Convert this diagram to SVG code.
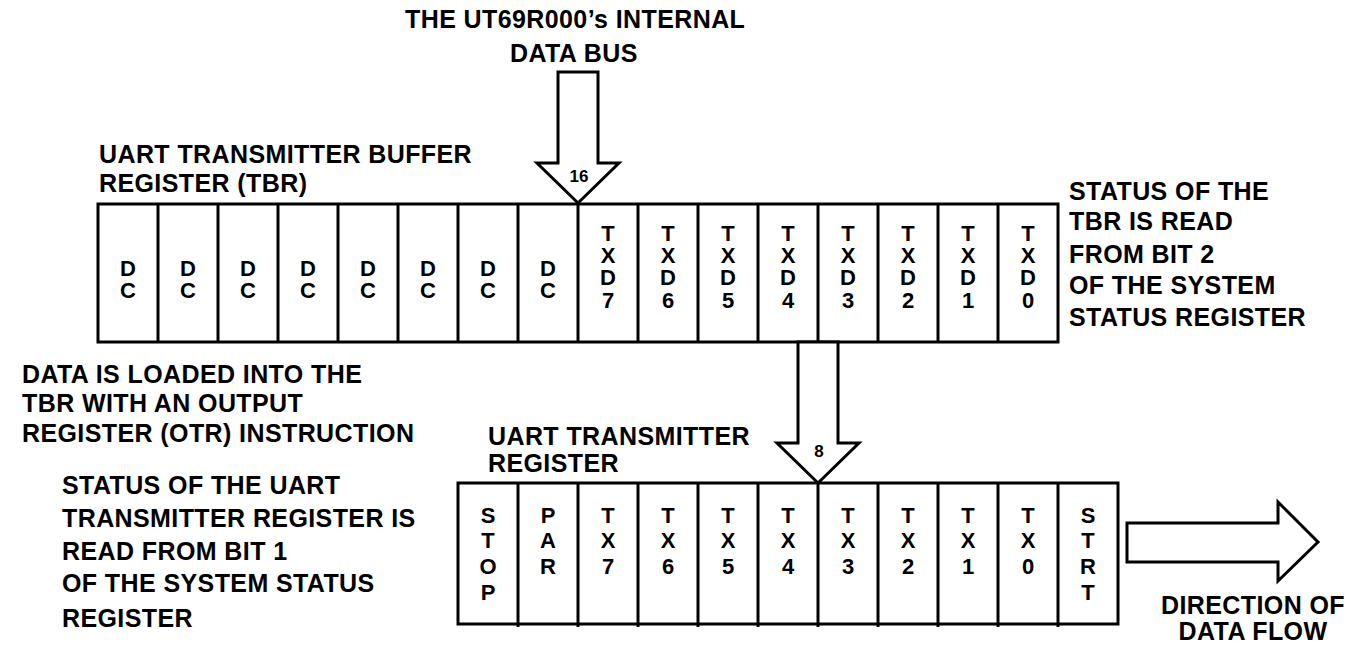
<svg xmlns="http://www.w3.org/2000/svg" width="1354" height="652" viewBox="0 0 1354 652">
<style>
.lbl{font-family:"Liberation Sans",Arial,sans-serif;font-weight:bold;font-size:25px;letter-spacing:0.4px;fill:#000}
.cell{font-family:"Liberation Sans",Arial,sans-serif;font-weight:bold;font-size:22px;fill:#000;text-anchor:middle}
.num{font-family:"Liberation Sans",Arial,sans-serif;font-weight:bold;font-size:17px;fill:#000;text-anchor:middle}
.box{fill:#fff;stroke:#000;stroke-width:3}
.div{stroke:#000;stroke-width:3}
.arr{fill:#fff;stroke:#000;stroke-width:3;stroke-linejoin:miter}
</style>
<rect width="1354" height="652" fill="#fff"/>

<g id="title">
<text class="lbl" x="405" y="28">THE UT69R000’s INTERNAL</text>
<text class="lbl" x="510" y="62">DATA BUS</text>
</g>

<g id="tbr-label">
<text class="lbl" x="99" y="163">UART TRANSMITTER BUFFER</text>
<text class="lbl" x="99" y="192">REGISTER (TBR)</text>
</g>

<g id="tbr-status-note">
<text class="lbl" x="1069" y="200">STATUS OF THE</text>
<text class="lbl" x="1069" y="230">TBR IS READ</text>
<text class="lbl" x="1069" y="263">FROM BIT 2</text>
<text class="lbl" x="1069" y="294">OF THE SYSTEM</text>
<text class="lbl" x="1069" y="326">STATUS REGISTER</text>
</g>

<g id="otr-note">
<text class="lbl" x="22" y="383">DATA IS LOADED INTO THE</text>
<text class="lbl" x="22" y="412">TBR WITH AN OUTPUT</text>
<text class="lbl" x="22" y="442">REGISTER (OTR) INSTRUCTION</text>
</g>

<g id="tr-status-note">
<text class="lbl" x="62" y="494">STATUS OF THE UART</text>
<text class="lbl" x="62" y="527">TRANSMITTER REGISTER IS</text>
<text class="lbl" x="62" y="560">READ FROM BIT 1</text>
<text class="lbl" x="62" y="592">OF THE SYSTEM STATUS</text>
<text class="lbl" x="62" y="627">REGISTER</text>
</g>

<g id="tr-label">
<text class="lbl" x="488" y="445">UART TRANSMITTER</text>
<text class="lbl" x="488" y="472">REGISTER</text>
</g>

<g id="tbr">
<rect class="box" x="98" y="204" width="960" height="138"/>
<g class="div">
<line x1="158" y1="204" x2="158" y2="342"/><line x1="218" y1="204" x2="218" y2="342"/>
<line x1="278" y1="204" x2="278" y2="342"/><line x1="338" y1="204" x2="338" y2="342"/>
<line x1="398" y1="204" x2="398" y2="342"/><line x1="458" y1="204" x2="458" y2="342"/>
<line x1="518" y1="204" x2="518" y2="342"/><line x1="578" y1="204" x2="578" y2="342"/>
<line x1="638" y1="204" x2="638" y2="342"/><line x1="698" y1="204" x2="698" y2="342"/>
<line x1="758" y1="204" x2="758" y2="342"/><line x1="818" y1="204" x2="818" y2="342"/>
<line x1="878" y1="204" x2="878" y2="342"/><line x1="938" y1="204" x2="938" y2="342"/>
<line x1="998" y1="204" x2="998" y2="342"/>
</g>
<text class="cell"><tspan x="128" y="276">D</tspan><tspan x="128" y="298">C</tspan></text>
<text class="cell"><tspan x="188" y="276">D</tspan><tspan x="188" y="298">C</tspan></text>
<text class="cell"><tspan x="248" y="276">D</tspan><tspan x="248" y="298">C</tspan></text>
<text class="cell"><tspan x="308" y="276">D</tspan><tspan x="308" y="298">C</tspan></text>
<text class="cell"><tspan x="368" y="276">D</tspan><tspan x="368" y="298">C</tspan></text>
<text class="cell"><tspan x="428" y="276">D</tspan><tspan x="428" y="298">C</tspan></text>
<text class="cell"><tspan x="488" y="276">D</tspan><tspan x="488" y="298">C</tspan></text>
<text class="cell"><tspan x="548" y="276">D</tspan><tspan x="548" y="298">C</tspan></text>
<text class="cell"><tspan x="608" y="241">T</tspan><tspan x="608" y="263">X</tspan><tspan x="608" y="285">D</tspan><tspan x="608" y="308">7</tspan></text>
<text class="cell"><tspan x="668" y="241">T</tspan><tspan x="668" y="263">X</tspan><tspan x="668" y="285">D</tspan><tspan x="668" y="308">6</tspan></text>
<text class="cell"><tspan x="728" y="241">T</tspan><tspan x="728" y="263">X</tspan><tspan x="728" y="285">D</tspan><tspan x="728" y="308">5</tspan></text>
<text class="cell"><tspan x="788" y="241">T</tspan><tspan x="788" y="263">X</tspan><tspan x="788" y="285">D</tspan><tspan x="788" y="308">4</tspan></text>
<text class="cell"><tspan x="848" y="241">T</tspan><tspan x="848" y="263">X</tspan><tspan x="848" y="285">D</tspan><tspan x="848" y="308">3</tspan></text>
<text class="cell"><tspan x="908" y="241">T</tspan><tspan x="908" y="263">X</tspan><tspan x="908" y="285">D</tspan><tspan x="908" y="308">2</tspan></text>
<text class="cell"><tspan x="968" y="241">T</tspan><tspan x="968" y="263">X</tspan><tspan x="968" y="285">D</tspan><tspan x="968" y="308">1</tspan></text>
<text class="cell"><tspan x="1028" y="241">T</tspan><tspan x="1028" y="263">X</tspan><tspan x="1028" y="285">D</tspan><tspan x="1028" y="308">0</tspan></text>
</g>

<g id="tr">
<rect class="box" x="458" y="483" width="660" height="141"/>
<g class="div">
<line x1="518" y1="483" x2="518" y2="627"/><line x1="578" y1="483" x2="578" y2="627"/>
<line x1="638" y1="483" x2="638" y2="627"/><line x1="698" y1="483" x2="698" y2="627"/>
<line x1="758" y1="483" x2="758" y2="627"/><line x1="818" y1="483" x2="818" y2="627"/>
<line x1="878" y1="483" x2="878" y2="627"/><line x1="938" y1="483" x2="938" y2="627"/>
<line x1="998" y1="483" x2="998" y2="627"/><line x1="1058" y1="483" x2="1058" y2="627"/>
</g>
<text class="cell"><tspan x="488" y="523">S</tspan><tspan x="488" y="548">T</tspan><tspan x="488" y="574">O</tspan><tspan x="488" y="600">P</tspan></text>
<text class="cell"><tspan x="548" y="523">P</tspan><tspan x="548" y="548">A</tspan><tspan x="548" y="574">R</tspan></text>
<text class="cell"><tspan x="608" y="523">T</tspan><tspan x="608" y="548">X</tspan><tspan x="608" y="574">7</tspan></text>
<text class="cell"><tspan x="668" y="523">T</tspan><tspan x="668" y="548">X</tspan><tspan x="668" y="574">6</tspan></text>
<text class="cell"><tspan x="728" y="523">T</tspan><tspan x="728" y="548">X</tspan><tspan x="728" y="574">5</tspan></text>
<text class="cell"><tspan x="788" y="523">T</tspan><tspan x="788" y="548">X</tspan><tspan x="788" y="574">4</tspan></text>
<text class="cell"><tspan x="848" y="523">T</tspan><tspan x="848" y="548">X</tspan><tspan x="848" y="574">3</tspan></text>
<text class="cell"><tspan x="908" y="523">T</tspan><tspan x="908" y="548">X</tspan><tspan x="908" y="574">2</tspan></text>
<text class="cell"><tspan x="968" y="523">T</tspan><tspan x="968" y="548">X</tspan><tspan x="968" y="574">1</tspan></text>
<text class="cell"><tspan x="1028" y="523">T</tspan><tspan x="1028" y="548">X</tspan><tspan x="1028" y="574">0</tspan></text>
<text class="cell"><tspan x="1088" y="523">S</tspan><tspan x="1088" y="548">T</tspan><tspan x="1088" y="574">R</tspan><tspan x="1088" y="600">T</tspan></text>
</g>

<g id="connectors">
<g id="bus16">
<polygon class="arr" points="558,72 598,72 598,163 619,163 578,203 537,163 558,163"/>
<text class="num" x="579" y="182">16</text>
</g>
<g id="bus8">
<polygon class="arr" points="798,342 838,342 838,443 859,443 818,483 777,443 798,443"/>
<text class="num" x="819" y="457">8</text>
</g>
<g id="flow">
<polygon class="arr" points="1127,523 1278,523 1278,502 1318,542 1278,581 1278,562 1127,562"/>
</g>
</g>

<g id="flow-label">
<text class="lbl" x="1253" y="614" text-anchor="middle">DIRECTION OF</text>
<text class="lbl" x="1253" y="640" text-anchor="middle">DATA FLOW</text>
</g>
</svg>
